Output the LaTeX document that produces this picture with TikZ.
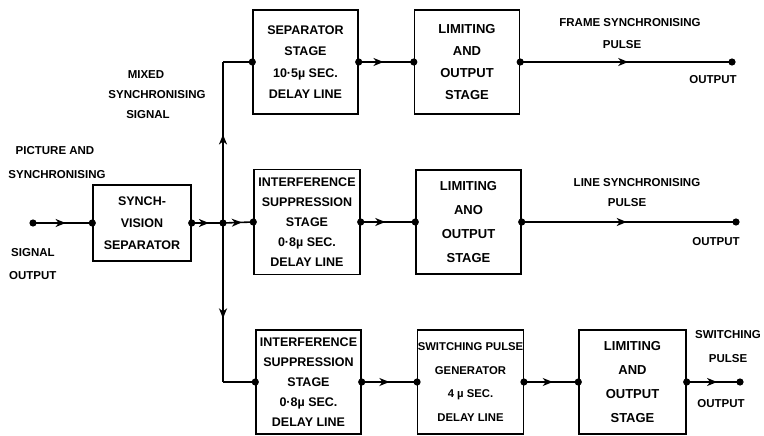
\documentclass[tikz,border=0pt]{standalone}
\usepackage{fontspec}
\setmainfont{Liberation Sans}
\usetikzlibrary{arrows.meta,decorations.markings}
\begin{document}
\begin{tikzpicture}[x=1pt,y=-1pt,
  blk/.style={draw, line width=1.4pt, inner sep=0pt, align=center, minimum width=105pt, minimum height=104pt},
  conn/.style={line width=1.6pt},
  midarr/.style={postaction={decorate}, decoration={markings, mark=at position #1 with {\arrow{Stealth[length=10pt,width=8pt,inset=3pt]}}}},
  lbl/.style={font=\bfseries\fontsize{11.5}{14}\selectfont, inner sep=0pt}
]
\useasboundingbox (0,0) rectangle (764,436);

% blocks
\node[blk, font=\bfseries\fontsize{12.5}{22}\selectfont, minimum width=98pt, minimum height=76pt] (syn) at (142,223) {SYNCH-\\VISION\\SEPARATOR};
\node[blk, font=\bfseries\fontsize{12.5}{21.5}\selectfont] (sep) at (305.5,62) {SEPARATOR\\STAGE\\10·5µ SEC.\\DELAY LINE};
\node[blk, font=\bfseries\fontsize{13}{22}\selectfont] (lim1) at (467,62) {LIMITING\\AND\\OUTPUT\\STAGE};
\node[blk, font=\bfseries\fontsize{12.5}{20}\selectfont, minimum width=106pt, minimum height=105pt] (int1) at (307,222) {INTERFERENCE\\SUPPRESSION\\STAGE\\0·8µ SEC.\\DELAY LINE};
\node[blk, font=\bfseries\fontsize{13}{24}\selectfont] (lim2) at (468.5,222) {LIMITING\\ANO\\OUTPUT\\STAGE};
\node[blk, font=\bfseries\fontsize{12.5}{20}\selectfont] (int2) at (308.5,382) {INTERFERENCE\\SUPPRESSION\\STAGE\\0·8µ SEC.\\DELAY LINE};
\node[blk, font=\bfseries\fontsize{11.3}{23.5}\selectfont] (sw) at (470.5,382) {SWITCHING PULSE\\GENERATOR\\4 µ SEC.\\DELAY LINE};
\node[blk, font=\bfseries\fontsize{13}{24}\selectfont, minimum width=107pt] (lim3) at (632.5,382) {LIMITING\\AND\\OUTPUT\\STAGE};

% connection points
\coordinate (in) at (33,223);
\coordinate (j) at (223,223);
\coordinate (c1) at (223,62);
\coordinate (c2) at (223,382);
\coordinate (o1) at (732,62);
\coordinate (o2) at (736,222);
\coordinate (o3) at (740,382);

% connectors
\draw[conn,midarr=0.55] (in) -- (syn.west);
\draw[conn,midarr=0.55] (syn.east) -- (j);
\draw[conn,midarr=0.62] (j) -- (int1.west);
\draw[conn,midarr=0.55] (j) -- (c1);
\draw[conn] (c1) -- (sep.west);
\draw[conn,midarr=0.6] (j) -- (c2);
\draw[conn] (c2) -- (int2.west);
\draw[conn,midarr=0.45] (sep.east) -- (lim1.west);
\draw[conn,midarr=0.45] (int1.east) -- (lim2.west);
\draw[conn,midarr=0.5] (int2.east) -- (sw.west);
\draw[conn,midarr=0.53] (sw.east) -- (lim3.west);
\draw[conn,midarr=0.51] (lim1.east) -- (o1);
\draw[conn,midarr=0.49] (lim2.east) -- (o2);
\draw[conn,midarr=0.57] (lim3.east) -- (o3);

% dots
\foreach \p in {in,syn.west,syn.east,j,int1.west,sep.west,int2.west,sep.east,lim1.west,lim1.east,o1,int1.east,lim2.west,lim2.east,o2,int2.east,sw.west,sw.east,lim3.west,lim3.east,o3}
  \fill (\p) circle (3.6pt);

% labels
\node[lbl] (l1) at (146,75) {MIXED};
\node[lbl] (l2) at (157,95) {SYNCHRONISING};
\node[lbl] (l3) at (148,115) {SIGNAL};
\node[lbl] (l4) at (55,151) {PICTURE AND};
\node[lbl] (l5) at (57,175) {SYNCHRONISING};
\node[lbl,anchor=west] (l6) at (11,253) {SIGNAL};
\node[lbl,anchor=west] (l7) at (9,276) {OUTPUT};
\node[lbl] (l8) at (630,23) {FRAME SYNCHRONISING};
\node[lbl] (l9) at (622,45) {PULSE};
\node[lbl] (l10) at (713,80) {OUTPUT};
\node[lbl] (l11) at (637,183) {LINE SYNCHRONISING};
\node[lbl] (l12) at (627,203) {PULSE};
\node[lbl] (l13) at (716,242) {OUTPUT};
\node[lbl] (l14) at (728,335) {SWITCHING};
\node[lbl] (l15) at (728,359) {PULSE};
\node[lbl] (l16) at (721,404) {OUTPUT};
\end{tikzpicture}
\end{document}
